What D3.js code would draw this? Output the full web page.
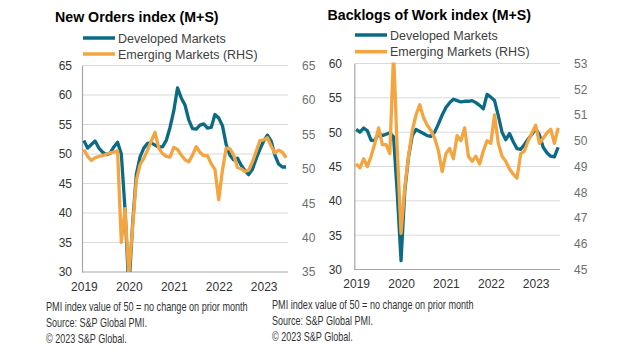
<!DOCTYPE html>
<html><head><meta charset="utf-8">
<script src="https://cdn.jsdelivr.net/npm/d3@7"></script>
<style>
html,body{margin:0;padding:0;background:#fff;}
svg{display:block;font-family:"Liberation Sans",Arial,sans-serif;}
</style></head>
<body><svg id="c" width="629" height="356"></svg>
<script>
// Monthly data, Apr 2019 .. Oct 2023 (55 months)
const months = d3.timeMonth.range(new Date(2019, 3, 1), new Date(2023, 10, 1));
const yearLabels = ["2019", "2020", "2021", "2022", "2023"];
const yearTickIndex = [0, 12, 24, 36, 48];

const seriesNames = ["Developed Markets", "Emerging Markets (RHS)"];

// New Orders index
const newOrdersDM = [52.3,51.0,51.6,52.2,51.0,50.3,49.9,50.1,51.2,52.0,50.0,40.5,27.0,38.0,46.5,49.5,51.0,51.8,51.9,51.5,51.2,51.2,52.3,54.5,57.3,61.2,59.5,58.3,55.8,54.3,54.2,54.9,55.1,54.4,54.5,56.7,56.1,54.8,51.6,49.8,49.0,49.3,48.1,47.2,46.5,47.4,49.2,50.8,52.2,53.2,52.2,49.8,48.3,47.8,47.8];
const newOrdersEM = [52.8,51.8,51.2,51.6,51.8,51.9,52.1,52.3,52.4,52.6,39.3,44.2,34.5,41.5,48.3,50.6,51.5,52.7,54.0,55.3,53.0,52.2,51.8,51.7,53.1,52.8,52.0,51.3,51.0,52.0,53.2,52.4,51.9,51.9,50.7,49.9,45.5,49.8,53.0,52.9,52.0,50.2,50.0,49.6,49.8,51.0,52.5,54.1,54.2,54.5,53.3,52.3,52.7,52.4,51.6];
const newOrdersLeftTicks = [30, 35, 40, 45, 50, 55, 60, 65];
const newOrdersRightTicks = [35, 40, 45, 50, 55, 60, 65];

// Backlogs of Work index
const backlogsDM = [50.4,50.0,50.6,50.2,48.8,48.8,49.8,49.5,49.7,49.9,49.3,41.0,31.3,41.5,46.4,49.5,50.4,50.1,49.8,49.5,49.4,50.0,51.2,52.5,53.6,54.3,54.8,54.6,54.4,54.5,54.5,54.6,54.3,53.9,53.4,55.5,55.1,54.6,52.4,50.0,48.9,49.8,48.6,47.6,47.5,48.2,49.0,49.7,50.5,49.6,47.8,47.0,46.5,46.4,47.8];
const backlogsEM = [49.1,48.95,49.3,49.0,49.4,49.9,50.5,49.85,49.85,49.5,53.4,49.6,46.4,48.2,49.4,50.4,51.0,51.4,50.9,50.6,50.4,50.1,49.6,48.8,49.5,49.7,49.3,50.2,50.0,50.5,49.4,49.2,49.4,49.1,49.6,50.0,49.9,51.0,49.9,49.4,49.2,48.9,48.7,48.55,49.5,49.6,50.0,50.3,50.6,49.9,50.1,50.3,50.45,49.9,50.5];
const backlogsLeftTicks = [30, 35, 40, 45, 50, 55, 60];
const backlogsRightTicks = [45, 46, 47, 48, 49, 50, 51, 52, 53];

const footnotes = ["PMI index value of 50 = no change on prior month", "Source: S&P Global PMI.", "\u00A9 2023 S&P Global."];

const TEAL = "#0b6b85", ORANGE = "#f4a540";
const svg = d3.select("#c");

function panel(cfg) {
  const g = svg.append("g");
  const x = d3.scalePoint().domain(d3.range(months.length)).range([cfg.x0, cfg.x1]).padding(0.5);
  const yL = d3.scaleLinear().domain(cfg.leftDomain).range([cfg.yB, cfg.yT]);
  const yR = d3.scaleLinear().domain(cfg.rightDomain).range([cfg.yB, cfg.yT]);

  // title
  g.append("text").attr("x", cfg.titleX).attr("y", cfg.titleY).text(cfg.title)
    .attr("font-size", 14.2).attr("font-weight", "bold").attr("fill", "#000");

  // legend
  const colors = [TEAL, ORANGE];
  seriesNames.forEach((n, i) => {
    const ly = cfg.legY[i];
    g.append("line").attr("x1", cfg.legX).attr("x2", cfg.legX + 32).attr("y1", ly).attr("y2", ly)
      .attr("stroke", colors[i]).attr("stroke-width", 3.5);
    g.append("text").attr("x", cfg.legX + 35).attr("y", ly + 4.5).text(n)
      .attr("font-size", 12.5).attr("fill", "#404040");
  });

  // gridlines
  g.append("g").selectAll("line").data(cfg.leftTicks.slice(1)).join("line")
    .attr("x1", cfg.x0).attr("x2", cfg.x1).attr("y1", d => yL(d)).attr("y2", d => yL(d))
    .attr("stroke", "#d9d9d9").attr("stroke-width", 1);

  // axis lines
  const axL = g.append("g").attr("transform", `translate(${cfg.x0},0)`)
    .call(d3.axisLeft(yL).tickValues(cfg.leftTicks).tickSize(0).tickPadding(cfg.x0 - cfg.leftLabelX));
  axL.select(".domain").attr("stroke", "#a6a6a6").attr("stroke-width", 1.2);
  axL.selectAll("text").attr("font-size", 12).attr("fill", "#333").attr("font-family", "Liberation Sans, Arial, sans-serif");

  const axR = g.append("g").attr("transform", `translate(${cfg.x1},0)`)
    .call(d3.axisRight(yR).tickValues(cfg.rightTicks).tickSize(0).tickPadding(cfg.rightLabelX - cfg.x1));
  axR.select(".domain").remove();
  axR.selectAll("text").attr("font-size", 12).attr("fill", "#6e6e6e").attr("font-family", "Liberation Sans, Arial, sans-serif");

  const axB = g.append("g").attr("transform", `translate(0,${cfg.yB})`)
    .call(d3.axisBottom(x).tickValues(yearTickIndex).tickFormat((d, i) => yearLabels[i]).tickSize(0).tickPadding(cfg.xLabelPad));
  axB.select(".domain").attr("stroke", "#a6a6a6").attr("stroke-width", 1.2).attr("d", `M${cfg.x0},0H${cfg.x1}`);
  axB.selectAll("text").attr("font-size", 12).attr("fill", "#333").attr("font-family", "Liberation Sans, Arial, sans-serif");

  // clip
  const cid = "clip" + cfg.id;
  svg.append("clipPath").attr("id", cid).append("rect")
    .attr("x", cfg.x0).attr("y", cfg.yT - 1).attr("width", cfg.x1 - cfg.x0 + 4).attr("height", cfg.yB - cfg.yT + 1);

  const lineL = d3.line().x((d, i) => x(i)).y(d => yL(d));
  const lineR = d3.line().x((d, i) => x(i)).y(d => yR(d));
  const lg = g.append("g").attr("clip-path", `url(#${cid})`);
  lg.append("path").datum(cfg.dm).attr("d", lineL).attr("fill", "none")
    .attr("stroke", TEAL).attr("stroke-width", 3.3).attr("stroke-linejoin", "round");
  lg.append("path").datum(cfg.em).attr("d", lineR).attr("fill", "none")
    .attr("stroke", ORANGE).attr("stroke-width", 3.3).attr("stroke-linejoin", "round");

  // footnotes (condensed to the reference widths)
  const fl = cfg.footLen;
  footnotes.forEach((t, i) => {
    const fg = g.append("g");
    const tx = fg.append("text").attr("x", 0).attr("y", 0).text(t)
      .attr("font-size", 12).attr("fill", "#333")
      .attr("font-family", "Liberation Sans Narrow, Arial Narrow, Liberation Sans, sans-serif");
    const w = tx.node().getComputedTextLength();
    const sx = w > 0 ? fl[i] / w : 1;
    fg.attr("transform", `translate(${cfg.footX},${cfg.footY + i * 16}) scale(${sx},1)`);
  });
}

panel({
  id: "L", title: "New Orders index (M+S)", titleX: 55, titleY: 21.5,
  legX: 83, legY: [38, 54],
  x0: 82, x1: 288, yT: 65.5, yB: 272,
  leftDomain: [30, 65], rightDomain: [35, 65],
  leftTicks: newOrdersLeftTicks, rightTicks: newOrdersRightTicks,
  leftLabelX: 72, rightLabelX: 302, xLabelPad: 10,
  dm: newOrdersDM, em: newOrdersEM,
  footX: 46, footY: 311, footLen: [202, 101, 81]
});

panel({
  id: "R", title: "Backlogs of Work index (M+S)", titleX: 327.5, titleY: 19.5,
  legX: 355, legY: [35, 51.7],
  x0: 354.3, x1: 560, yT: 63.5, yB: 269.5,
  leftDomain: [30, 60], rightDomain: [45, 53],
  leftTicks: backlogsLeftTicks, rightTicks: backlogsRightTicks,
  leftLabelX: 342, rightLabelX: 574, xLabelPad: 10,
  dm: backlogsDM, em: backlogsEM,
  footX: 272, footY: 309, footLen: [202, 101, 81]
});
</script></body></html>
